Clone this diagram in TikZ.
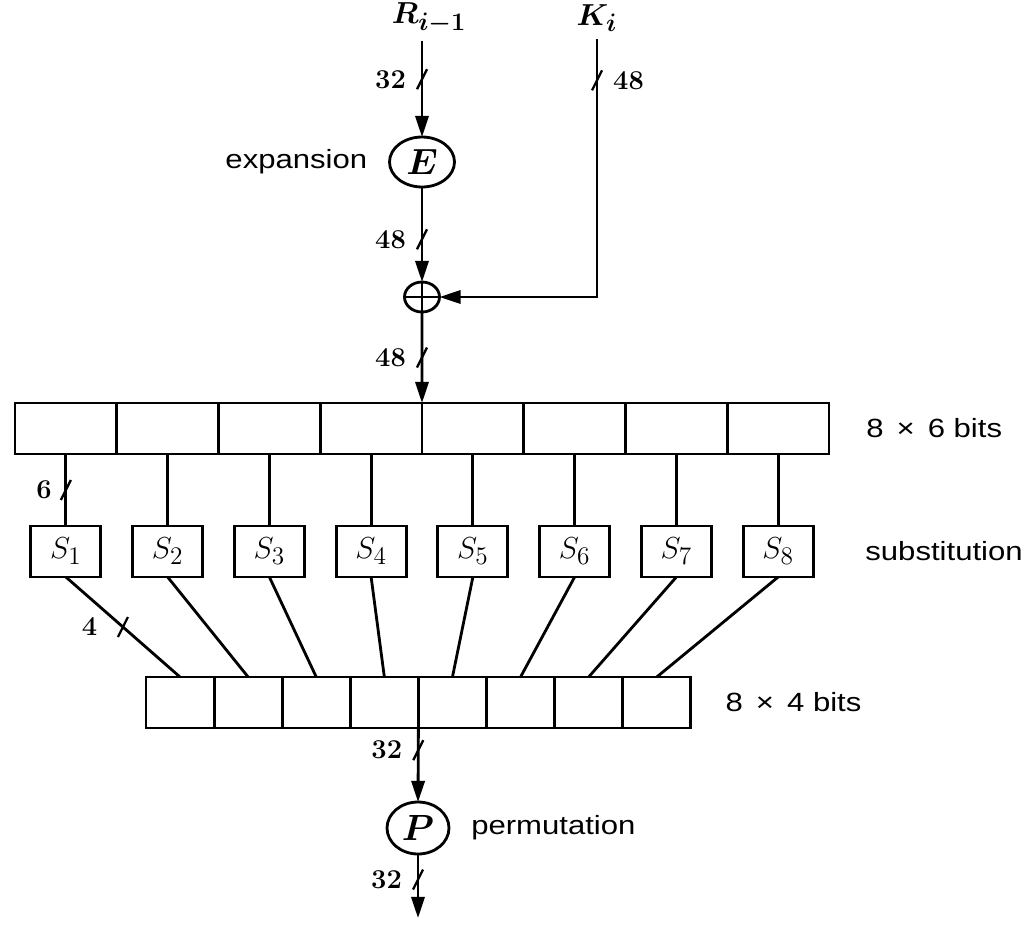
\documentclass[tikz,border=0pt]{standalone}
\usepackage{fontspec}
\newfontfamily\labelfont[FakeStretch=1.18]{Liberation Sans}
\usetikzlibrary{arrows.meta, positioning, shapes.geometric}

% short stroke across a bus line
\newcommand{\busmark}[1]{\draw[line width=1.3pt] ([shift={(-5,10)}]#1) -- ([shift={(5,-10)}]#1);}

\begin{document}
\begin{tikzpicture}[x=0.02cm, y=-0.02cm, line width=1.6pt,
	wire/.style={-{Triangle[length=12pt, width=7.5pt]}},
	num/.style={font=\fontsize{15.5}{17}\selectfont\bfseries, anchor=east, inner sep=1pt},
	word/.style={font=\fontsize{15}{17}\selectfont\labelfont},
	cellsix/.style={draw, minimum width=2.035cm, minimum height=1.02cm, inner sep=0pt, outer sep=0pt},
	cellfour/.style={draw, minimum width=1.362cm, minimum height=1.02cm, inner sep=0pt, outer sep=0pt},
	sbox/.style={draw, minimum width=1.4cm, minimum height=1.02cm, inner sep=0pt, outer sep=0pt, font=\fontsize{19}{21}\selectfont},
	op/.style={draw, ellipse, minimum width=1.3cm, minimum height=1cm, inner sep=0pt, outer sep=0pt, font=\fontsize{20}{22}\selectfont\boldmath}]
	\useasboundingbox (0,0) rectangle (1031,924);

	% inputs
	\node[font=\fontsize{19}{21}\selectfont\boldmath] (R) at (429,18) {$R_{i-1}$};
	\node[font=\fontsize{19}{21}\selectfont\boldmath] (K) at (597,18) {$K_i$};

	% expansion and key mixing
	\node[op] (E) at (422,162) {$E$};
	\node[word, left=0.3cm of E] (exp) {expansion};
	\node[draw, ellipse, minimum width=0.7cm, minimum height=0.6cm, inner sep=0pt, outer sep=0pt] (xor) at (422,297) {};
	\draw (xor.north) -- (xor.south) (xor.west) -- (xor.east);

	\draw[wire] (R.south -| E.north) -- coordinate[pos=0.4] (m1) (E.north);
	\busmark{m1} \node[num] at ([xshift=-0.26cm]m1) {32};
	\draw[wire] (E.south) -- coordinate[pos=0.55] (m2) (xor.north);
	\busmark{m2} \node[num] at ([xshift=-0.26cm]m2) {48};
	\draw[wire] (K.south) |- coordinate[pos=0.08] (m3) (xor.east);
	\busmark{m3} \node[num, anchor=west] at ([xshift=0.26cm]m3) {48};

	% 8 x 6 bits, S-boxes, 8 x 4 bits
	\foreach \i in {1,...,8} {
		\node[cellsix] (t\i) at ({15+101.75*(\i-0.5)},428.5) {};
		\node[sbox] (s\i) at ({15+101.75*(\i-0.5)},551.5) {$S_{\i}$};
		\node[cellfour] (b\i) at ({146+68.1*(\i-0.5)},702.5) {};
		\draw (t\i) -- coordinate (u\i) (s\i);
		\draw (s\i.south) -- coordinate (v\i) (b\i.north);
	}
	\busmark{u1} \node[num] at ([xshift=-0.22cm]u1) {6};
	\busmark{v1} \node[num] at ([xshift=-0.45cm]v1) {4};
	\draw[wire] (xor.south) -- coordinate[pos=0.5] (m4) (t4.north east);
	\busmark{m4} \node[num] at ([xshift=-0.26cm]m4) {48};

	\node[word, right=0.6cm of t8] (six) {8 \,× \,6 bits};
	\node[word, right=0.9cm of s8] (sub) {substitution};
	\node[word, right=0.55cm of b8] (four) {8 \,× \,4 bits};

	% permutation
	\node[op, minimum width=1.24cm, minimum height=1.04cm] (P) at (418,828) {$P$};
	\node[word, right=0.3cm of P] (perm) {permutation};
	\coordinate (out) at (418,918);
	\draw[wire] (b4.south east) -- coordinate[pos=0.3] (m6) (P.north);
	\busmark{m6} \node[num] at ([xshift=-0.26cm]m6) {32};
	\draw[wire] (P.south) -- coordinate[pos=0.4] (m7) (out);
	\busmark{m7} \node[num] at ([xshift=-0.26cm]m7) {32};
\end{tikzpicture}
\end{document}
